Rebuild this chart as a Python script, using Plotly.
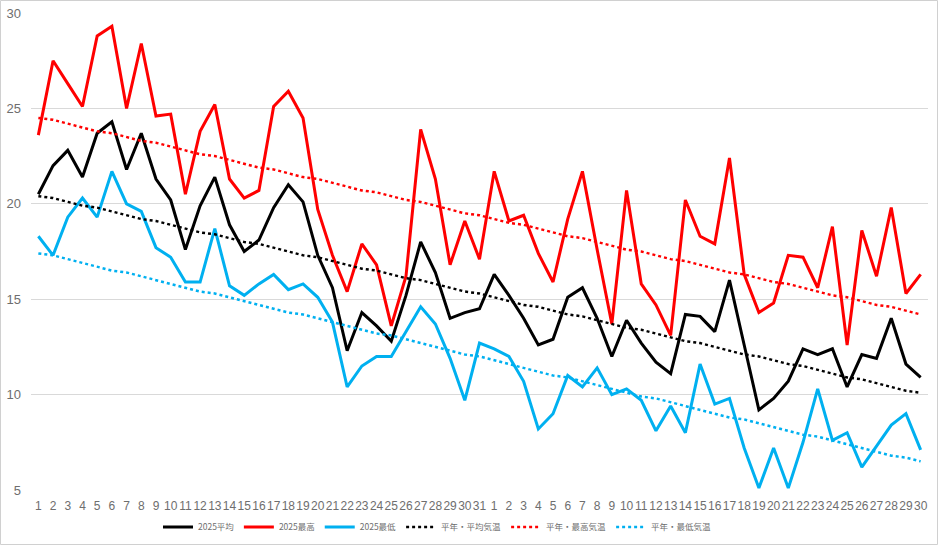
import plotly.graph_objects as go

day_labels = [str(d) for d in range(1, 32)] + [str(d) for d in range(1, 31)]

avg_2025 = [20.5, 22.0, 22.8, 21.4, 23.7, 24.3, 21.8, 23.7, 21.3, 20.2,
            17.6, 19.9, 21.4, 18.9, 17.5, 18.1, 19.8, 21.0, 20.1, 17.3,
            15.6, 12.3, 14.3, 13.6, 12.8, 15.2, 18.0, 16.4, 14.0, 14.3, 14.5,
            16.3, 15.2, 14.0, 12.6, 12.9, 15.1, 15.6, 14.0, 12.0, 13.9,
            12.7, 11.7, 11.1, 14.2, 14.1, 13.3, 16.0, 12.6, 9.2, 9.8,
            10.7, 12.4, 12.1, 12.4, 10.4, 12.1, 11.9, 14.0, 11.6, 10.9]

max_2025 = [23.6, 27.5, 26.3, 25.1, 28.8, 29.3, 25.0, 28.4, 24.6, 24.7,
            20.5, 23.8, 25.2, 21.3, 20.3, 20.7, 25.1, 25.9, 24.5, 19.7,
            17.3, 15.4, 17.9, 16.8, 13.6, 16.2, 23.9, 21.3, 16.8, 19.1, 17.1,
            21.7, 19.1, 19.4, 17.4, 15.9, 19.2, 21.7, 17.6, 13.7, 20.7,
            15.8, 14.7, 13.1, 20.2, 18.3, 17.9, 22.4, 16.3, 14.3, 14.8,
            17.3, 17.2, 15.6, 18.8, 12.6, 18.6, 16.2, 19.8, 15.3, 16.3]

min_2025 = [18.3, 17.3, 19.3, 20.3, 19.3, 21.7, 20.0, 19.6, 17.7, 17.2,
            15.9, 15.9, 18.7, 15.7, 15.2, 15.8, 16.3, 15.5, 15.8, 15.1,
            13.8, 10.4, 11.5, 12.0, 12.0, 13.3, 14.6, 13.7, 11.9, 9.7, 12.7,
            12.4, 12.0, 10.7, 8.2, 9.0, 11.0, 10.4, 11.4, 10.0, 10.3,
            9.7, 8.1, 9.4, 8.0, 11.6, 9.5, 9.8, 7.2, 5.1, 7.2,
            5.1, 7.5, 10.3, 7.6, 8.0, 6.2, 7.3, 8.4, 9.0, 7.1]

normal_avg = [20.4, 20.3, 20.1, 19.9, 19.8, 19.6, 19.4, 19.2, 19.1, 18.9,
              18.7, 18.5, 18.4, 18.2, 18.0, 17.9, 17.7, 17.5, 17.3, 17.2,
              17.0, 16.8, 16.6, 16.5, 16.3, 16.1, 16.0, 15.8, 15.6, 15.4, 15.3,
              15.1, 14.9, 14.7, 14.6, 14.4, 14.2, 14.1, 13.9, 13.7, 13.5,
              13.4, 13.2, 13.0, 12.8, 12.7, 12.5, 12.3, 12.1, 12.0, 11.8,
              11.6, 11.5, 11.3, 11.1, 10.9, 10.8, 10.6, 10.4, 10.2, 10.1]

normal_max = [24.5, 24.4, 24.2, 24.0, 23.8, 23.7, 23.5, 23.3, 23.2, 23.0,
              22.8, 22.6, 22.5, 22.3, 22.1, 21.9, 21.8, 21.6, 21.4, 21.3,
              21.1, 20.9, 20.7, 20.6, 20.4, 20.2, 20.1, 19.9, 19.7, 19.5, 19.4,
              19.2, 19.0, 18.9, 18.7, 18.5, 18.3, 18.2, 18.0, 17.8, 17.6,
              17.5, 17.3, 17.1, 17.0, 16.8, 16.6, 16.4, 16.3, 16.1, 15.9,
              15.8, 15.6, 15.4, 15.2, 15.1, 14.9, 14.7, 14.6, 14.4, 14.2]

normal_min = [17.4, 17.3, 17.1, 16.9, 16.7, 16.5, 16.4, 16.2, 16.0, 15.8,
              15.6, 15.4, 15.3, 15.1, 14.9, 14.7, 14.5, 14.3, 14.2, 14.0,
              13.8, 13.6, 13.4, 13.2, 13.1, 12.9, 12.7, 12.5, 12.3, 12.1, 12.0,
              11.8, 11.6, 11.4, 11.2, 11.0, 10.9, 10.7, 10.5, 10.3, 10.1,
              9.9, 9.8, 9.6, 9.4, 9.2, 9.0, 8.8, 8.7, 8.5, 8.3,
              8.1, 7.9, 7.8, 7.6, 7.4, 7.2, 7.0, 6.8, 6.7, 6.5]

series_names = ["2025平均", "2025最高", "2025最低", "平年・平均気温", "平年・最高気温", "平年・最低気温"]
series_data = [avg_2025, max_2025, min_2025, normal_avg, normal_max, normal_min]
series_colors = ["#000000", "#FF0000", "#00B0F0", "#000000", "#FF0000", "#00B0F0"]
series_dash = ["solid", "solid", "solid", "dot", "dot", "dot"]
y_ticks = [5, 10, 15, 20, 25, 30]

x = list(range(len(day_labels)))

fig = go.Figure()
for name, data, color, dash in zip(series_names, series_data, series_colors, series_dash):
    fig.add_trace(go.Scatter(
        x=x, y=data, mode="lines", name=name,
        line=dict(color=color, width=3 if dash == "solid" else 2.5, dash=dash),
    ))

FONT = "Noto Sans CJK JP, Noto Sans, sans-serif"
TICKFONT = "Liberation Sans, Arial, sans-serif"
TXT = "#6E6E6E"
W, H = 943, 547
L, R, T, B = 31, 15, 13, 57
pw, ph = W - L - R, H - T - B

def px_to_paper_x(px):
    return (px - L) / pw

def px_to_paper_y(py):
    return (H - B - py) / ph

fig.update_layout(
    width=W, height=H,
    margin=dict(l=L, r=R, t=T, b=B, pad=0, autoexpand=False),
    paper_bgcolor="white", plot_bgcolor="white",
    font=dict(family=FONT, size=11, color=TXT),
    showlegend=True,
    legend=dict(
        orientation="h", xanchor="left", yanchor="middle",
        xref="container", yref="container",
        x=158 / W, y=(H - 527) / H,
        font=dict(family=FONT, size=8.5, color=TXT),
        itemwidth=30, traceorder="normal", bgcolor="rgba(0,0,0,0)",
    ),
    xaxis=dict(
        range=[-0.5, len(x) - 0.5], automargin=False,
        tickmode="array", tickvals=x, ticktext=day_labels,
        showgrid=False, zeroline=False, showline=False,
        ticks="", tickangle=0,
        tickfont=dict(family=TICKFONT, size=12, color=TXT),
        ticklabelstandoff=7,
    ),
    yaxis=dict(
        range=[5, 30], automargin=False,
        tickmode="array", tickvals=y_ticks,
        showgrid=True, gridcolor="#D9D9D9", gridwidth=1,
        zeroline=False, showline=False, ticks="",
        tickfont=dict(family=TICKFONT, size=13, color=TXT),
        ticklabelstandoff=9,
    ),
    shapes=[dict(
        type="rect", xref="paper", yref="paper",
        x0=px_to_paper_x(0.5), x1=px_to_paper_x(937.5),
        y0=px_to_paper_y(544.5), y1=px_to_paper_y(0.5),
        line=dict(color="#D0D0D0", width=1), fillcolor="rgba(0,0,0,0)",
        layer="above",
    )],
)

fig.write_html("out.html")
